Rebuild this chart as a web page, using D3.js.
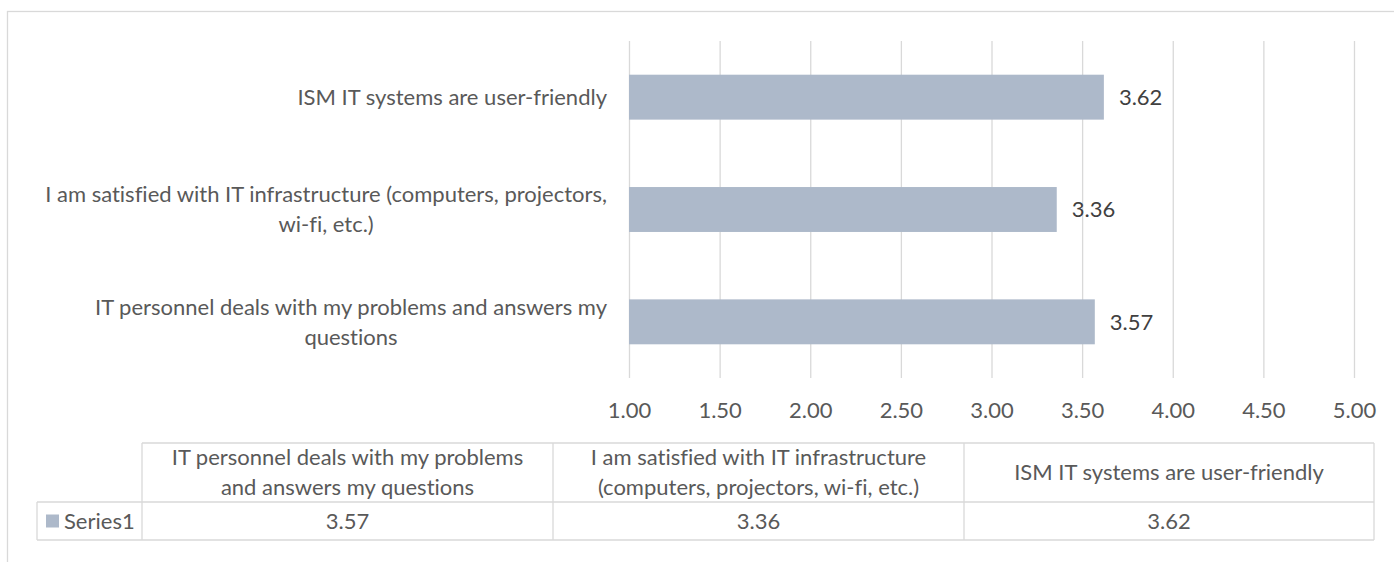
<!DOCTYPE html>
<html>
<head>
<meta charset="utf-8">
<script src="https://cdn.jsdelivr.net/npm/d3@7"></script>
<style>
  body { margin: 0; background: #fff; }
  svg text { font-family: Lato, 'Open Sans', sans-serif; font-variant-ligatures: none; }
</style>
</head>
<body>
<svg id="chart"></svg>
<script>
const categories = [
  'IT personnel deals with my problems and answers my questions',
  'I am satisfied with IT infrastructure (computers, projectors, wi-fi, etc.)',
  'ISM IT systems are user-friendly'
];
const values = [3.57, 3.36, 3.62];
const seriesName = 'Series1';
const xTicks = [1.00, 1.50, 2.00, 2.50, 3.00, 3.50, 4.00, 4.50, 5.00];

const w = 1394;
const h = 562;
const fontSize = 22;
const barColor = '#adb9ca';
const gridColor = '#d9d9d9';
const textColor = '#595959';

const svg = d3.select('#chart')
  .attr('width', w)
  .attr('height', h);

// outer chart border (runs off the right / bottom edge)
svg.append('rect')
  .attr('x', 7.5).attr('y', 11.5)
  .attr('width', 1420).attr('height', 600)
  .attr('fill', 'none')
  .attr('stroke', gridColor)
  .attr('stroke-width', 1.3);

const escalaX = d3.scaleLinear()
  .domain([xTicks[0], xTicks[xTicks.length - 1]])
  .range([629, 1354]);

const escalaY = d3.scaleBand()
  .domain(categories.slice().reverse())
  .range([41, 378])
  .paddingInner(0.6)
  .paddingOuter(0.3);

// vertical gridlines
const gridlines = d3.axisBottom(escalaX)
  .tickValues(xTicks)
  .tickFormat('')
  .tickSize(-(378 - 41));

const g = svg.append('g')
  .attr('transform', 'translate(0, 378)')
  .call(gridlines);
g.select('.domain').remove();
g.selectAll('line').attr('stroke', gridColor).attr('stroke-width', 1.3);

// x tick labels
const ejeX = d3.axisBottom(escalaX)
  .tickValues(xTicks)
  .tickFormat(d3.format('.2f'))
  .tickSize(0)
  .tickPadding(0);

const gx = svg.append('g')
  .attr('transform', 'translate(0, 410)')
  .call(ejeX);
gx.select('.domain').remove();
gx.selectAll('text')
  .attr('y', 0)
  .attr('dy', '0.35em')
  .attr('fill', textColor)
  .style('font-size', fontSize + 'px');

// bars
svg.selectAll('rect.bar')
  .data(values)
  .enter()
  .append('rect')
  .attr('class', 'bar')
  .attr('x', escalaX(xTicks[0]))
  .attr('y', (d, i) => escalaY(categories[i]))
  .attr('width', d => escalaX(d) - escalaX(xTicks[0]))
  .attr('height', escalaY.bandwidth())
  .attr('fill', barColor);

// value labels
svg.selectAll('text.valor')
  .data(values)
  .enter()
  .append('text')
  .attr('class', 'valor')
  .attr('x', d => escalaX(d) + 15)
  .attr('y', (d, i) => escalaY(categories[i]) + escalaY.bandwidth() / 2)
  .attr('dy', '0.35em')
  .attr('fill', '#404040')
  .style('font-size', fontSize + 'px')
  .text(d => d3.format('.2f')(d));

// greedy word wrap, measured in the page
const medidor = svg.append('text').style('font-size', fontSize + 'px');
function medir(s) {
  medidor.text(s);
  return medidor.node().getComputedTextLength();
}
function partir(s, maxW) {
  const palabras = s.split(' ');
  let lineas = [];
  let actual = '';
  palabras.forEach(p => {
    const prueba = actual ? actual + ' ' + p : p;
    if (actual && medir(prueba) > maxW) {
      lineas.push(actual);
      actual = p;
    } else {
      actual = prueba;
    }
  });
  lineas.push(actual);
  return lineas;
}

const lineH = 30;

// category labels (block right-aligned, lines centred)
categories.forEach(c => {
  const lineas = partir(c, 590);
  const anchoMax = d3.max(lineas, l => medir(l));
  const cy = escalaY(c) + escalaY.bandwidth() / 2;
  const t = svg.append('text')
    .attr('text-anchor', 'middle')
    .attr('fill', textColor)
    .style('font-size', fontSize + 'px');
  lineas.forEach((l, j) => {
    t.append('tspan')
      .attr('x', 607 - anchoMax / 2)
      .attr('y', cy + (j - (lineas.length - 1) / 2) * lineH)
      .attr('dy', '0.35em')
      .text(l);
  });
});

// data table
const tablaX = [37, 142, 553, 964, 1374];
const tablaY = [443, 502, 540];
const tabla = svg.append('g');

tabla.append('line')
  .attr('x1', tablaX[1]).attr('x2', tablaX[4])
  .attr('y1', tablaY[0]).attr('y2', tablaY[0]);
tabla.append('line')
  .attr('x1', tablaX[0]).attr('x2', tablaX[4])
  .attr('y1', tablaY[1]).attr('y2', tablaY[1]);
tabla.append('line')
  .attr('x1', tablaX[0]).attr('x2', tablaX[4])
  .attr('y1', tablaY[2]).attr('y2', tablaY[2]);
tabla.append('line')
  .attr('x1', tablaX[0]).attr('x2', tablaX[0])
  .attr('y1', tablaY[1]).attr('y2', tablaY[2]);
tablaX.slice(1).forEach(x => {
  tabla.append('line')
    .attr('x1', x).attr('x2', x)
    .attr('y1', tablaY[0]).attr('y2', tablaY[2]);
});
tabla.selectAll('line')
  .attr('stroke', gridColor)
  .attr('stroke-width', 1.3);

categories.forEach((c, i) => {
  const lineas = partir(c, 388);
  const cx = (tablaX[i + 1] + tablaX[i + 2]) / 2;
  const cy = (tablaY[0] + tablaY[1]) / 2;
  const t = tabla.append('text')
    .attr('text-anchor', 'middle')
    .attr('fill', textColor)
    .style('font-size', fontSize + 'px');
  lineas.forEach((l, j) => {
    t.append('tspan')
      .attr('x', cx)
      .attr('y', cy + (j - (lineas.length - 1) / 2) * lineH)
      .attr('dy', '0.35em')
      .text(l);
  });
  tabla.append('text')
    .attr('x', cx)
    .attr('y', (tablaY[1] + tablaY[2]) / 2)
    .attr('dy', '0.35em')
    .attr('text-anchor', 'middle')
    .attr('fill', textColor)
    .style('font-size', fontSize + 'px')
    .text(d3.format('.2f')(values[i]));
});

// legend key + series name
tabla.append('rect')
  .attr('x', 46).attr('y', (tablaY[1] + tablaY[2]) / 2 - 6.5)
  .attr('width', 13).attr('height', 13)
  .attr('fill', barColor);
tabla.append('text')
  .attr('x', 64)
  .attr('y', (tablaY[1] + tablaY[2]) / 2)
  .attr('dy', '0.35em')
  .attr('fill', textColor)
  .style('font-size', fontSize + 'px')
  .text(seriesName);

medidor.remove();
</script>
</body>
</html>
